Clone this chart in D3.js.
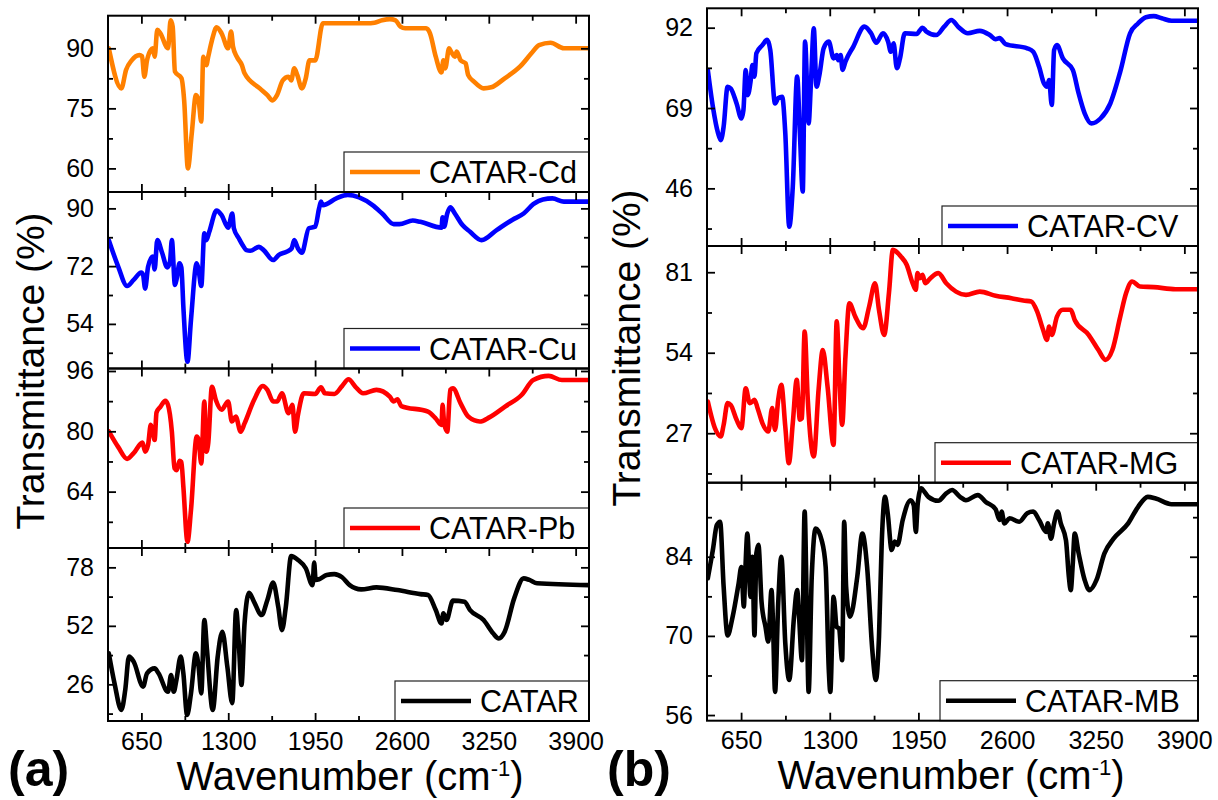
<!DOCTYPE html>
<html><head><meta charset="utf-8">
<script src="https://cdn.jsdelivr.net/npm/d3@7"></script>
<style>body{margin:0;background:#fff} svg{display:block} text{font-family:"Liberation Sans",Arial,sans-serif;fill:#000}</style>
</head><body><svg id="c" width="1218" height="800"></svg>
<script>
// ---------- tick labels ----------
const xMajor = [650, 1300, 1950, 2600, 3250, 3900];
const xMinor = [975, 1625, 2275, 2925, 3575];
const xDomain = [400, 4000];

// ---------- series: [wavenumber, transmittance %] ----------
const seriesCd = [[406,90],[500,80],[535,84.6],[577,87],[635,88.3],[655,88],[672,82.9],[692,87],[720,89.6],[735,90],[749,87.9],[769,94.6],[792,93.75],[849,90],[869,97],[884,95.4],[901,84.2],[950,82.5],[970,77],[998,60],[1027,68.75],[1058,78.3],[1078,77],[1098,71.7],[1113,87.9],[1136,85.8],[1150,87.9],[1178,92],[1213,95.25],[1250,93.75],[1299,90],[1321,94.2],[1336,90.4],[1364,87.9],[1402,85.8],[1422,83.75],[1536,80],[1593,78.3],[1631,77],[1665,78.3],[1708,82],[1751,82.9],[1771,82],[1794,85],[1817,83.3],[1851,80],[1880,82.5],[1908,87],[1951,87],[2008,96.25],[2337,96.25],[2395,96.4],[2452,97],[2509,97.3],[2552,97],[2589,95.4],[2624,95],[2781,95],[2810,93.75],[2853,87.9],[2896,84],[2910,87],[2924,85],[2953,90],[2967,89.2],[2996,87.9],[3010,89.2],[3039,87],[3076,86.25],[3096,83.3],[3139,81.7],[3211,80],[3268,80.25],[3369,82.5],[3483,85.4],[3569,88.75],[3626,90.8],[3712,91.4],[3812,90],[3998,90]];

const seriesCu = [[406,80.1],[477,71.8],[543,65.8],[592,67.7],[649,70],[663,69.2],[678,65],[700,71.8],[735,75],[749,71],[769,80.1],[806,76],[843,71.6],[864,73.4],[878,80.1],[901,66.1],[915,68.2],[935,72.9],[949,71.6],[964,59.4],[995,42.2],[1021,55.2],[1064,72.9],[1078,70.8],[1098,65.8],[1121,82.2],[1136,80.1],[1158,82.7],[1213,89.3],[1250,87.9],[1299,84],[1330,88.4],[1342,83.8],[1379,80.7],[1407,78.6],[1436,77],[1465,76.8],[1530,78],[1565,77],[1636,73.9],[1679,75.5],[1737,76.5],[1774,77.5],[1794,80.1],[1822,77.5],[1851,76.2],[1903,83.8],[1951,84.3],[1980,90],[1994,92.1],[2008,91],[2109,93.1],[2194,94.2],[2280,93.4],[2380,91],[2452,88.4],[2538,85.1],[2581,85.1],[2681,86.2],[2738,85.8],[2896,84],[2904,87.2],[2916,84.3],[2939,88.4],[2962,90.3],[2996,88.4],[3053,84.8],[3110,82.7],[3196,80.1],[3311,83.3],[3425,86.4],[3511,88.4],[3583,91.3],[3655,92.8],[3726,93.1],[3812,92.1],[3998,92.1]];

const seriesPb = [[406,80],[477,75.8],[543,72.7],[592,74.2],[658,77],[678,74.6],[700,76.4],[720,81.7],[735,79.9],[749,77.7],[763,85],[792,86.5],[829,88.1],[849,87],[878,79.9],[898,70.2],[915,69.7],[935,72.2],[949,71.9],[964,65.3],[995,50.7],[1021,59.1],[1064,78.6],[1078,77.7],[1098,71.5],[1121,87.9],[1136,74.6],[1150,76.8],[1178,91.8],[1207,88.3],[1250,85.7],[1299,87.9],[1327,82.6],[1356,83.9],[1393,79.9],[1422,82.1],[1493,88.3],[1559,92],[1593,91],[1636,87.9],[1665,87.9],[1702,90.1],[1751,84.8],[1780,87],[1800,79.9],[1822,84.4],[1865,90.1],[1951,89.9],[1994,91.7],[2023,90.1],[2094,89.9],[2152,92],[2200,93.8],[2252,91.8],[2309,90.1],[2409,91],[2509,89.2],[2538,87.9],[2566,88.5],[2595,86.7],[2795,85.2],[2853,83.4],[2896,81.7],[2904,87],[2916,82.1],[2939,79.9],[2962,91],[2982,91.4],[3039,87.4],[3096,83.9],[3182,82.6],[3254,83.7],[3369,86.5],[3497,89.7],[3583,93.6],[3698,94.7],[3798,93.6],[3998,93.6]];

const seriesCatar = [[406,39.8],[449,26.4],[500,14.6],[529,23.5],[557,38.3],[592,36.1],[663,25],[692,30.9],[749,33.1],[778,30.9],[849,22.7],[872,30.1],[892,22.7],[912,27.9],[944,38.3],[964,30.9],[992,12.4],[1021,22],[1058,39.8],[1078,33.9],[1098,22],[1121,54.6],[1141,41.3],[1184,14.6],[1221,38.3],[1256,49.4],[1293,33.9],[1330,17.6],[1359,59],[1379,44.2],[1399,25.7],[1422,53.1],[1456,66.7],[1493,62.7],[1550,56.8],[1593,63.5],[1636,71.2],[1674,60.5],[1702,50.1],[1731,60.5],[1771,83],[1822,81.3],[1880,77.6],[1931,70.1],[1943,80.1],[1954,72.4],[1980,72.7],[2037,74.6],[2094,75],[2152,73.6],[2209,70.1],[2295,68.2],[2409,69.1],[2566,67.9],[2738,66.1],[2795,65.7],[2853,59],[2896,53.1],[2910,57.6],[2933,54.6],[2982,63.2],[3068,62.7],[3110,59],[3211,54.6],[3282,48.7],[3325,46.4],[3369,49.4],[3440,64.2],[3511,73.1],[3554,72.4],[3612,70.9],[3998,70.1]];

const seriesCV = [[406,79.9],[443,69.4],[481,61.8],[501,59.8],[522,63.7],[551,75.1],[574,74.6],[617,70.3],[652,66],[667,68.4],[684,79.9],[699,72.7],[719,76.5],[733,81.3],[748,78],[762,84.7],[806,87],[841,88.5],[864,85.6],[899,70.3],[922,71.8],[951,72.2],[974,61.8],[1003,35],[1029,46.5],[1061,78],[1081,61.8],[1102,45.1],[1119,88],[1145,64.6],[1162,76.1],[1183,91.8],[1203,75.1],[1226,78.9],[1255,86.1],[1293,88],[1328,83.2],[1351,84.2],[1362,82.7],[1380,84.2],[1394,79.9],[1415,82.3],[1473,86.6],[1554,92.3],[1603,90.4],[1641,87.7],[1690,90.4],[1728,88],[1748,85.1],[1768,87.5],[1792,80.4],[1815,83.2],[1850,90.4],[1937,90.2],[1980,92],[2009,90.9],[2081,89.9],[2139,92.3],[2192,94.2],[2241,92.3],[2313,90.4],[2400,91.1],[2473,89.9],[2516,88.7],[2545,89],[2589,87.3],[2748,86.1],[2792,85.1],[2835,80.8],[2870,76.1],[2893,75.1],[2908,77],[2928,69.9],[2945,85.6],[2966,87],[3009,83.2],[3082,79.9],[3125,73.2],[3169,67.5],[3218,64.6],[3285,66],[3357,70.3],[3430,79.4],[3502,90.4],[3560,93.2],[3618,95],[3676,95.3],[3734,94.7],[3806,94],[3998,94]];

const seriesMG = [[406,37.6],[458,28.7],[501,25.9],[522,29.8],[551,37.1],[574,36.5],[617,31.5],[652,28.7],[684,42.1],[713,37.1],[733,37.6],[748,38.2],[771,35.4],[806,30.4],[849,27.6],[878,35.4],[899,28.1],[922,38.2],[945,43.2],[974,29.2],[1000,16.9],[1029,30.4],[1058,44.9],[1081,31.5],[1096,32],[1116,61.1],[1139,38.2],[1183,19.2],[1218,41.5],[1249,54.9],[1284,42.6],[1328,23.1],[1351,64.5],[1371,44.9],[1391,29.8],[1415,52.7],[1444,70.6],[1487,66.1],[1545,62.2],[1589,69.5],[1632,77.3],[1661,68.4],[1699,60],[1734,74],[1763,88.5],[1821,86.3],[1864,83.5],[1908,77.3],[1931,75.1],[1943,80.7],[1960,79],[1980,80.1],[2000,77.3],[2038,79],[2096,80.7],[2154,77.3],[2226,74.5],[2299,73.4],[2400,74.5],[2516,73.1],[2632,72.3],[2719,71.5],[2777,71.2],[2821,67.8],[2864,61.7],[2893,58.3],[2908,62.8],[2928,60],[2966,66.1],[3009,68.4],[3067,68.4],[3096,65],[3198,60],[3270,54.9],[3322,51.6],[3372,54.9],[3430,66.1],[3473,74],[3517,77.9],[3575,76.2],[3676,76],[3835,75.3],[3998,75.3]];

const seriesMB = [[406,80.2],[443,85.2],[472,89.6],[496,90.2],[522,78.7],[551,70.1],[588,73.4],[632,79.3],[652,82.2],[670,75.2],[681,81.6],[696,88.1],[719,76.9],[733,84],[748,70.1],[762,84.6],[777,86.1],[800,76],[829,71.6],[849,69],[873,78.1],[884,72.2],[899,60.1],[922,75.7],[945,84],[974,68.7],[1003,62.2],[1038,73.4],[1061,78.1],[1075,73.4],[1096,65.7],[1116,92],[1131,75.7],[1145,60.1],[1168,80.5],[1197,89],[1241,86.9],[1270,82.2],[1293,64],[1304,60.1],[1328,76.9],[1351,71.6],[1368,71.3],[1391,65.7],[1406,90.2],[1420,78.7],[1449,73.4],[1502,80.5],[1539,88.1],[1574,82.2],[1612,67.5],[1638,62.2],[1661,69.8],[1681,86.4],[1705,94.6],[1725,91.7],[1754,85.2],[1777,86.7],[1797,86.1],[1835,90.5],[1893,94],[1916,93.1],[1931,88.4],[1945,93.4],[1971,96.1],[1994,95.5],[2023,94.6],[2096,93.9],[2154,95.2],[2197,95.8],[2255,94.6],[2298,94],[2386,94.9],[2444,93.7],[2516,92.4],[2545,90.5],[2560,92],[2580,89.9],[2618,90.8],[2690,90.2],[2748,91.7],[2792,92],[2835,90.5],[2887,88.4],[2899,89.9],[2922,87.2],[2945,89.9],[2971,92],[2994,89.9],[3032,86.9],[3053,80.5],[3067,78.1],[3082,82.8],[3096,88.1],[3125,84.6],[3169,79.9],[3204,78.1],[3256,79.9],[3314,84.6],[3381,87.2],[3488,89.9],[3560,92.8],[3632,94.6],[3690,94.3],[3806,93.3],[3998,93.3]];

// ---------- y ticks ----------
const yMajorCd = [60, 75, 90],    yMinorCd = [67.5, 82.5];
const yMajorCu = [54, 72, 90],    yMinorCu = [45, 63, 81];
const yMajorPb = [64, 80, 96],    yMinorPb = [56, 72, 88];
const yMajorCatar = [26, 52, 78], yMinorCatar = [13, 39, 65];
const yMajorCV = [46, 69, 92],    yMinorCV = [34.5, 57.5, 80.5];
const yMajorMG = [27, 54, 81],    yMinorMG = [13.5, 40.5, 67.5];
const yMajorMB = [56, 70, 84],    yMinorMB = [63, 77, 91];

const seriesNames = ["CATAR-Cd","CATAR-Cu","CATAR-Pb","CATAR","CATAR-CV","CATAR-MG","CATAR-MB"];

// ---------- layout ----------
const cols = [{x0:108, x1:589}, {x0:707, x1:1198}];
const panels = [
  {name:seriesNames[0], data:seriesCd,    color:"#FF8000", col:0, y0:15.7,  y1:192,   dom:[54.1,98.15], major:yMajorCd,    minor:yMinorCd,    legX:344, bottom:false},
  {name:seriesNames[1], data:seriesCu,    color:"#0000FF", col:0, y0:192,   y1:368.5, dom:[40.1,95.1],  major:yMajorCu,    minor:yMinorCu,    legX:344, bottom:false},
  {name:seriesNames[2], data:seriesPb,    color:"#FF0000", col:0, y0:368.5, y1:548,   dom:[49.05,96.66],major:yMajorPb,    minor:yMinorPb,    legX:344, bottom:false},
  {name:seriesNames[3], data:seriesCatar, color:"#000000", col:0, y0:548,   y1:721,   dom:[9.7,86.6],   major:yMajorCatar, minor:yMinorCatar, legX:395, bottom:true},
  {name:seriesNames[4], data:seriesCV,    color:"#0000FF", col:1, y0:8.3,   y1:246,   dom:[29.5,97.55], major:yMajorCV,    minor:yMinorCV,    legX:942, bottom:false},
  {name:seriesNames[5], data:seriesMG,    color:"#FF0000", col:1, y0:246,   y1:482.7, dom:[10.4,89.8],  major:yMajorMG,    minor:yMinorMG,    legX:935, bottom:false},
  {name:seriesNames[6], data:seriesMB,    color:"#000000", col:1, y0:482.7, y1:720.7, dom:[55,97.1],    major:yMajorMB,    minor:yMinorMB,    legX:940, bottom:true}
];

const svg = d3.select("#c");
const defs = svg.append("defs");
const FS = 25;
const fmt = d3.format("d");

function styleAxis(g, showLabels){
  g.select(".domain").remove();
  g.selectAll(".tick line").attr("stroke","#000").attr("stroke-width",1.8);
  g.selectAll("text").attr("font-size",FS).attr("font-family",'"Liberation Sans",Arial,sans-serif').attr("fill","#000");
  if(!showLabels) g.selectAll("text").remove();
}

panels.forEach((p,i)=>{
  const c = cols[p.col];
  const x = d3.scaleLinear().domain(xDomain).range([c.x0, c.x1]);
  const y = d3.scaleLinear().domain(p.dom).range([p.y1, p.y0]);
  const g = svg.append("g");

  defs.append("clipPath").attr("id","clip"+i).append("rect")
    .attr("x",c.x0).attr("y",p.y0).attr("width",c.x1-c.x0).attr("height",p.y1-p.y0);

  const line = d3.line().x(d=>x(d[0])).y(d=>y(d[1])).curve(d3.curveMonotoneX);
  g.append("path").datum(p.data).attr("d",line)
    .attr("fill","none").attr("stroke",p.color).attr("stroke-width",4.6)
    .attr("stroke-linejoin","round").attr("stroke-linecap","round")
    .attr("clip-path","url(#clip"+i+")");

  // axes: ticks inward on all four sides
  g.append("g").attr("transform",`translate(${c.x0},0)`)
    .call(d3.axisLeft(y).tickValues(p.major).tickFormat(fmt).tickSize(-8).tickPadding(14)).call(a=>styleAxis(a,true));
  g.append("g").attr("transform",`translate(${c.x0},0)`)
    .call(d3.axisLeft(y).tickValues(p.minor).tickSize(-5)).call(a=>styleAxis(a,false));
  g.append("g").attr("transform",`translate(${c.x1},0)`)
    .call(d3.axisRight(y).tickValues(p.major).tickSize(-8)).call(a=>styleAxis(a,false));
  g.append("g").attr("transform",`translate(${c.x1},0)`)
    .call(d3.axisRight(y).tickValues(p.minor).tickSize(-5)).call(a=>styleAxis(a,false));
  g.append("g").attr("transform",`translate(0,${p.y0})`)
    .call(d3.axisTop(x).tickValues(xMajor).tickSize(-8)).call(a=>styleAxis(a,false));
  g.append("g").attr("transform",`translate(0,${p.y0})`)
    .call(d3.axisTop(x).tickValues(xMinor).tickSize(-5)).call(a=>styleAxis(a,false));
  g.append("g").attr("transform",`translate(0,${p.y1})`)
    .call(d3.axisBottom(x).tickValues(xMajor).tickFormat(fmt).tickSize(-8).tickPadding(11)).call(a=>styleAxis(a,p.bottom));
  g.append("g").attr("transform",`translate(0,${p.y1})`)
    .call(d3.axisBottom(x).tickValues(xMinor).tickSize(-5)).call(a=>styleAxis(a,false));

  // legend
  const lh = 40;
  const ly0 = p.y1 - lh;
  g.append("rect").attr("x",p.legX).attr("y",ly0).attr("width",c.x1-p.legX).attr("height",lh)
    .attr("fill","#fff").attr("stroke","#222").attr("stroke-width",1.2);
  const lcy = ly0 + lh/2;
  g.append("line").attr("x1",p.legX+6).attr("x2",p.legX+76).attr("y1",lcy).attr("y2",lcy)
    .attr("stroke",p.color).attr("stroke-width",4.6);
  g.append("text").attr("x",p.legX+85).attr("y",lcy+11).attr("font-size",30.5).text(p.name);

  // frame
  g.append("rect").attr("x",c.x0).attr("y",p.y0).attr("width",c.x1-c.x0).attr("height",p.y1-p.y0)
    .attr("fill","none").attr("stroke","#000").attr("stroke-width",2);
});

// axis titles
function yTitle(cx, cy){
  svg.append("text").attr("transform",`translate(${cx},${cy}) rotate(-90)`)
    .attr("text-anchor","middle").attr("font-size",39).text("Transmittance (%)");
}
yTitle(44, 371);
yTitle(640, 348);

function xTitle(cx, by){
  const t = svg.append("text").attr("x",cx).attr("y",by).attr("text-anchor","middle").attr("font-size",40);
  t.append("tspan").text("Wavenumber (cm");
  t.append("tspan").attr("dy",-14).attr("font-size",22).text("-1");
  t.append("tspan").attr("dy",14).text(")");
}
xTitle(350, 790);
xTitle(951, 789);

svg.append("text").attr("x",8).attr("y",786).attr("font-size",50).attr("font-weight","bold").text("(a)");
svg.append("text").attr("x",607).attr("y",786).attr("font-size",50).attr("font-weight","bold").text("(b)");
</script></body></html>
